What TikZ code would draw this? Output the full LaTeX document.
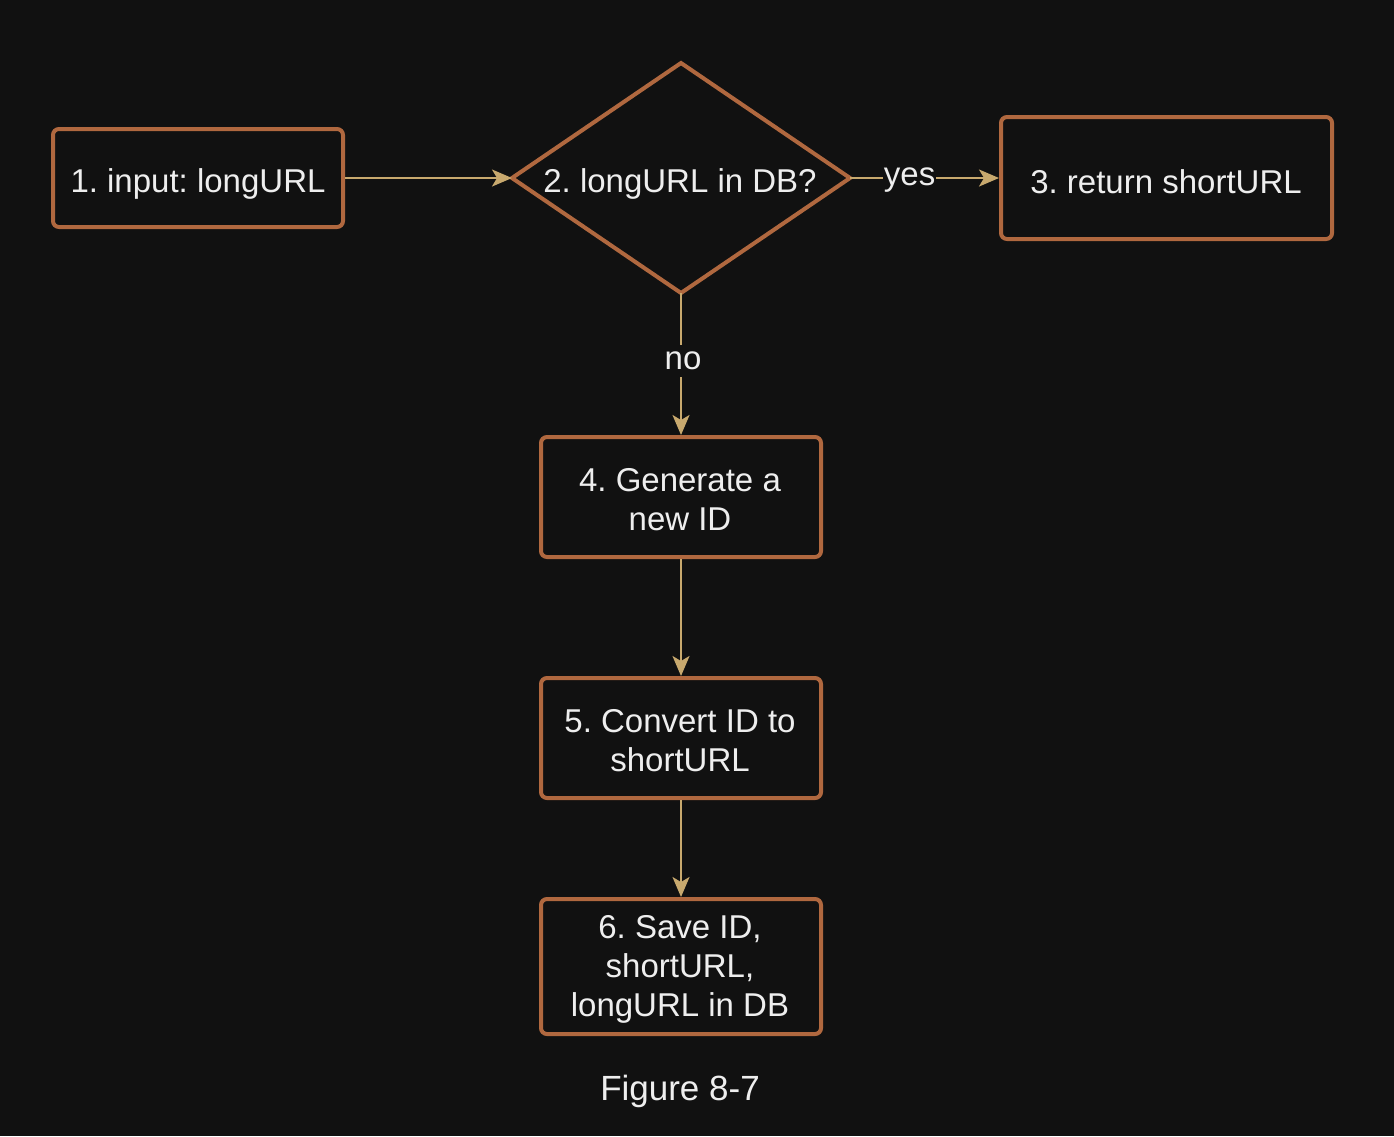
\documentclass[tikz,border=0pt]{standalone}
\usepackage{fontspec}
\setmainfont{Liberation Sans}
\usetikzlibrary{shapes.geometric,arrows.meta}
\definecolor{bg}{HTML}{111111}
\definecolor{boxc}{HTML}{B0683F}
\definecolor{arrc}{HTML}{C8A96E}
\definecolor{txt}{HTML}{EEEEEE}
\tikzset{
  stepbox/.style={draw=boxc, line width=4pt, rounded corners=6pt, fill=bg, inner sep=0pt},
  steptext/.style={text=txt, font=\frenchspacing\fontsize{33}{39}\selectfont, align=center, inner sep=0pt},
  conn/.style={draw=arrc, line width=2pt, -{Stealth[length=20pt,width=17pt,inset=5pt]}},
  lbl/.style={text=txt, fill=bg, font=\fontsize{33}{39}\selectfont, inner sep=1pt},
}
\begin{document}
\begin{tikzpicture}[x=1pt,y=-1pt]
\fill[bg] (0,0) rectangle (1394,1136);
\useasboundingbox (0,0) rectangle (1394,1136);
\node[stepbox, minimum width=290pt, minimum height=98pt] (s1) at (198,178) {};
\node[steptext] (t1) at (198,184) {1. input: longURL};
\draw[boxc, line width=4pt, fill=bg, line join=miter] (681,63) -- (850,178) -- (681,293) -- (512,178) -- cycle;
\coordinate (dt) at (681,63);
\coordinate (db) at (681,293);
\coordinate (dl) at (512,178);
\coordinate (dr) at (850,178);
\node[steptext] (s2) at (680,184) {2. longURL in DB?};
\node[stepbox, minimum width=331pt, minimum height=122pt] (s3) at (1166.5,178) {};
\node[steptext] (t3) at (1166,182) {3. return shortURL};
\node[stepbox, minimum width=280pt, minimum height=120pt] (s4) at (681,497) {};
\node[steptext] (t4) at (680,500) {4. Generate a\\new ID};
\node[stepbox, minimum width=280pt, minimum height=120pt] (s5) at (681,738) {};
\node[steptext] (t5) at (680,741) {5. Convert ID to\\shortURL};
\node[stepbox, minimum width=280pt, minimum height=135pt] (s6) at (681,966.5) {};
\node[steptext] (t6) at (680,969) {6. Save ID,\\shortURL,\\longURL in DB};
\draw[conn] (s1.east) -- (dl);
\draw[conn] (dr) -- node[lbl, pos=0.4, yshift=-2pt] (yes) {yes} (s3.west);
\draw[conn] (db) -- node[lbl, pos=0.45, xshift=2pt, yshift=-4pt, inner ysep=7pt] (no) {no} (s4.north);
\draw[conn] (s4.south) -- (s5.north);
\draw[conn] (s5.south) -- (s6.north);
\node[text=txt, font=\fontsize{35}{40}\selectfont] (cap) at (680,1091) {Figure 8-7};
\end{tikzpicture}
\end{document}
